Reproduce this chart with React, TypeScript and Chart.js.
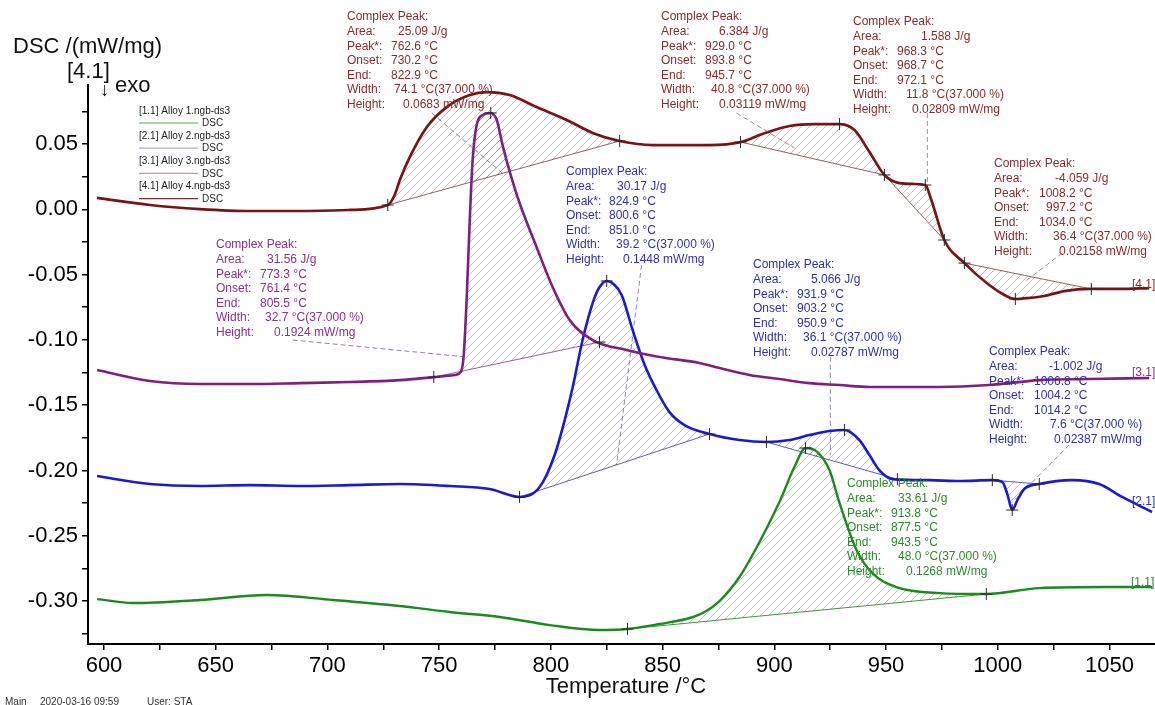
import React, { useEffect, useRef } from 'react';
import { Chart, registerables } from 'chart.js';

Chart.register(...registerables);

const FONT = '"Liberation Sans", Arial, Helvetica, sans-serif';

// ---------- Series data (Temperature °C, DSC mW/mg) ----------
// [1.1] Alloy 1 (green)
const alloy1Temp = [596.9, 613.0, 642.9, 672.9, 702.4, 732.4, 754.7, 777.1, 799.5, 821.8, 834.3, 848.7, 862.1, 868.8, 875.5, 884.4, 893.4, 902.3, 909.0, 914.0, 919.3, 924.7, 929.2, 936.8, 943.9, 954.6, 973.9, 994.9, 1018.6, 1048.6, 1069.1];
const alloy1Dsc = [-0.2985, -0.3015, -0.2992, -0.2954, -0.2992, -0.3038, -0.3084, -0.3122, -0.3184, -0.3222, -0.3214, -0.3176, -0.3130, -0.3084, -0.3000, -0.2816, -0.2548, -0.2242, -0.1974, -0.1828, -0.1859, -0.1997, -0.2249, -0.2609, -0.2786, -0.2893, -0.2939, -0.2946, -0.2901, -0.2893, -0.2893];

// [2.1] Alloy 2 (blue)
const alloy2Temp = [596.9, 620.6, 642.9, 665.3, 687.7, 710.0, 732.4, 754.7, 772.6, 786.0, 795.0, 801.7, 806.2, 809.8, 814.2, 818.7, 821.8, 825.0, 828.1, 831.7, 836.6, 842.0, 847.3, 853.1, 859.8, 871.0, 884.4, 896.5, 906.8, 915.7, 924.7, 931.4, 938.1, 942.6, 947.0, 952.9, 969.4, 982.8, 997.6, 1002.1, 1004.3, 1006.5, 1008.8, 1011.9, 1018.6, 1033.4, 1045.4, 1055.7, 1069.1];
const alloy2Dsc = [-0.2043, -0.2104, -0.2119, -0.2112, -0.2119, -0.2112, -0.2104, -0.2119, -0.2142, -0.2203, -0.2127, -0.1882, -0.1614, -0.1361, -0.1001, -0.0718, -0.0595, -0.0549, -0.0572, -0.0656, -0.0924, -0.1192, -0.1384, -0.1553, -0.1652, -0.1721, -0.1767, -0.1782, -0.1767, -0.1729, -0.1698, -0.1690, -0.1767, -0.1882, -0.1997, -0.2066, -0.2074, -0.2081, -0.2074, -0.2089, -0.2181, -0.2303, -0.2227, -0.2142, -0.2104, -0.2074, -0.2104, -0.2203, -0.2318];

// [3.1] Alloy 3 (purple)
const alloy3Temp = [596.9, 620.6, 642.9, 665.3, 687.7, 710.0, 732.4, 747.6, 757.0, 759.7, 761.0, 762.3, 763.7, 765.0, 766.8, 769.5, 773.1, 775.8, 778.4, 782.0, 786.0, 793.6, 800.8, 808.4, 818.7, 833.9, 848.7, 866.5, 875.5, 888.9, 902.3, 915.7, 929.2, 942.6, 956.0, 973.9, 996.2, 1018.6, 1041.0, 1067.8];
const alloy3Dsc = [-0.1231, -0.1315, -0.1338, -0.1338, -0.1331, -0.1323, -0.1308, -0.1285, -0.1269, -0.1246, -0.1116, -0.0695, -0.0082, 0.0378, 0.0646, 0.0722, 0.0738, 0.0684, 0.0492, 0.0263, 0.0048, -0.0289, -0.0595, -0.0848, -0.1001, -0.1078, -0.1131, -0.1177, -0.1216, -0.1269, -0.1300, -0.1331, -0.1346, -0.1361, -0.1361, -0.1361, -0.1346, -0.1308, -0.1300, -0.1292];

// [4.1] Alloy 4 (maroon)
const alloy4Temp = [596.9, 620.6, 642.9, 665.3, 687.7, 710.0, 727.0, 730.1, 732.4, 736.9, 744.5, 753.4, 763.7, 771.3, 781.6, 793.6, 807.1, 818.7, 830.8, 845.5, 857.6, 871.0, 884.9, 894.7, 906.8, 918.0, 929.2, 935.9, 942.6, 949.3, 956.0, 962.7, 967.6, 970.3, 976.1, 985.1, 996.2, 1003.0, 1007.9, 1014.1, 1020.8, 1029.8, 1041.9, 1054.4, 1067.8];
const alloy4Dsc = [0.0087, 0.0033, 0.0002, -0.0013, -0.0013, -0.0005, 0.0033, 0.0110, 0.0224, 0.0401, 0.0630, 0.0783, 0.0875, 0.0898, 0.0875, 0.0783, 0.0684, 0.0585, 0.0523, 0.0492, 0.0492, 0.0492, 0.0515, 0.0577, 0.0638, 0.0653, 0.0653, 0.0607, 0.0439, 0.0263, 0.0201, 0.0194, 0.0186, 0.0071, -0.0235, -0.0412, -0.0580, -0.0656, -0.0687, -0.0679, -0.0664, -0.0626, -0.0610, -0.0610, -0.0603];

// Integration limits of evaluated peaks (series index, start °C, end °C)
const peakSeries = [3, 3, 3, 3, 2, 1, 1, 1, 0];
const peakStart = [727.0, 884.9, 949.3, 985.1, 747.6, 786.0, 896.5, 997.6, 834.3];
const peakEnd = [830.8, 949.3, 976.1, 1041.9, 821.8, 871.0, 955.1, 1018.6, 994.9];

// Evaluation marker temperatures per series
const alloy1Marks = [834.3, 914.0, 994.9];
const alloy2Marks = [786.0, 825.0, 871.0, 896.5, 931.4, 955.1, 997.6, 1006.5, 1018.6];
const alloy3Marks = [747.6, 773.1, 821.8];
const alloy4Marks = [727.0, 830.8, 884.9, 929.2, 949.3, 967.6, 976.1, 985.1, 1007.9, 1041.9];

// Leader lines (data coordinates)
const leaderSeries = [3, 3, 3, 3, 2, 1, 1, 1];
const leaderT0 = [746.7, 883.1, 968.5, 1028.9, 684.5, 840.6, 925.1, 1032.0];
const leaderV0 = [0.0737, 0.0737, 0.0737, -0.0335, -0.1001, -0.0427, -0.1131, -0.1805];
const leaderT1 = [779.3, 909.0, 968.5, 1011.9, 762.3, 829.4, 925.1, 1006.1];
const leaderV1 = [0.0263, 0.0470, 0.0148, -0.0557, -0.1131, -0.1958, -0.1882, -0.2250];

// Axis ticks
const xTickValues = [600, 625, 650, 675, 700, 725, 750, 775, 800, 825, 850, 875, 900, 925, 950, 975, 1000, 1025, 1050];
const xLabelled = [600, 650, 700, 750, 800, 850, 900, 950, 1000, 1050];
const yTickValues = [-0.325, -0.3, -0.275, -0.25, -0.225, -0.2, -0.175, -0.15, -0.125, -0.1, -0.075, -0.05, -0.025, 0, 0.025, 0.05, 0.075];
const yLabelled = [-0.3, -0.25, -0.2, -0.15, -0.1, -0.05, 0, 0.05];

const seriesNames = ['[1.1] Alloy 1.ngb-ds3', '[2.1] Alloy 2.ngb-ds3', '[3.1] Alloy 3.ngb-ds3', '[4.1] Alloy 4.ngb-ds3'];
const seriesTags = ['[1.1]', '[2.1]', '[3.1]', '[4.1]'];

// ---------- Styles ----------
const lineColors = ['#1c8a1c', '#1a1ad2', '#7f1f7f', '#7a1414'];
const lineWidths = [2.4, 2.6, 2.6, 2.7];
const textColors = ['#2b8a2b', '#2e2eb8', '#8a308a', '#8b2a2a'];
const hatchColors = ['rgba(40,130,40,0.5)', 'rgba(70,70,120,0.45)', 'rgba(110,70,110,0.45)', 'rgba(110,70,70,0.45)'];
const baseColors = ['rgba(30,130,30,0.85)', 'rgba(40,40,170,0.75)', 'rgba(120,40,120,0.75)', 'rgba(120,40,40,0.75)'];
const leaderColors = ['rgba(40,130,40,0.6)', 'rgba(60,60,150,0.6)', 'rgba(110,50,110,0.65)', 'rgba(110,50,50,0.6)'];
const legendLineColors = ['#5aaa5a', '#aaaae6', '#c88cc8', '#7a3030'];
const tagPos = [[1131, 583], [1132, 502], [1132, 373], [1132, 285]];

const peakFieldNames = ['Area:', 'Peak*:', 'Onset:', 'End:', 'Width:', 'Height:'];
const annotationBlocks = [
  { s: 3, x: 347, y: 17, vals: ['25.09 J/g', '762.6 °C', '730.2 °C', '822.9 °C', '74.1 °C(37.000 %)', '0.0683 mW/mg'], vx: [398, 391, 391, 391, 394, 403] },
  { s: 3, x: 661, y: 17, vals: ['6.384 J/g', '929.0 °C', '893.8 °C', '945.7 °C', '40.8 °C(37.000 %)', '0.03119 mW/mg'], vx: [719, 705, 705, 705, 711, 719] },
  { s: 3, x: 853, y: 22, vals: ['1.588 J/g', '968.3 °C', '968.7 °C', '972.1 °C', '11.8 °C(37.000 %)', '0.02809 mW/mg'], vx: [921, 897, 897, 897, 906, 912] },
  { s: 3, x: 994, y: 164, vals: ['-4.059 J/g', '1008.2 °C', '997.2 °C', '1034.0 °C', '36.4 °C(37.000 %)', '0.02158 mW/mg'], vx: [1055, 1039, 1046, 1039, 1053, 1059] },
  { s: 2, x: 216, y: 245, vals: ['31.56 J/g', '773.3 °C', '761.4 °C', '805.5 °C', '32.7 °C(37.000 %)', '0.1924 mW/mg'], vx: [267, 260, 260, 260, 265, 274] },
  { s: 1, x: 566, y: 172, vals: ['30.17 J/g', '824.9 °C', '800.6 °C', '851.0 °C', '39.2 °C(37.000 %)', '0.1448 mW/mg'], vx: [617, 609, 609, 609, 616, 623] },
  { s: 1, x: 753, y: 265, vals: ['5.066 J/g', '931.9 °C', '903.2 °C', '950.9 °C', '36.1 °C(37.000 %)', '0.02787 mW/mg'], vx: [811, 797, 797, 797, 803, 811] },
  { s: 1, x: 989, y: 352, vals: ['-1.002 J/g', '1006.8 °C', '1004.2 °C', '1014.2 °C', '7.6 °C(37.000 %)', '0.02387 mW/mg'], vx: [1049, 1034, 1034, 1034, 1050, 1054] },
  { s: 0, x: 847, y: 484, vals: ['33.61 J/g', '913.8 °C', '877.5 °C', '943.5 °C', '48.0 °C(37.000 %)', '0.1268 mW/mg'], vx: [898, 891, 891, 891, 898, 906] },
];

const temps = [alloy1Temp, alloy2Temp, alloy3Temp, alloy4Temp];
const dscs = [alloy1Dsc, alloy2Dsc, alloy3Dsc, alloy4Dsc];
const marks = [alloy1Marks, alloy2Marks, alloy3Marks, alloy4Marks];

function interp(ts: number[], vs: number[], t: number): number {
  for (let i = 0; i < ts.length - 1; i++) {
    if (t >= ts[i] && t <= ts[i + 1]) {
      const f = (t - ts[i]) / (ts[i + 1] - ts[i]);
      return vs[i] + f * (vs[i + 1] - vs[i]);
    }
  }
  return t < ts[0] ? vs[0] : vs[vs.length - 1];
}

function makeHatch(ctx: CanvasRenderingContext2D, color: string) {
  const c = document.createElement('canvas');
  c.width = 8;
  c.height = 8;
  const g = c.getContext('2d')!;
  g.strokeStyle = color;
  g.lineWidth = 0.8;
  g.beginPath();
  g.moveTo(0, 8); g.lineTo(8, 0);
  g.moveTo(-1, 1); g.lineTo(1, -1);
  g.moveTo(7, 9); g.lineTo(9, 7);
  g.stroke();
  return ctx.createPattern(c, 'repeat');
}

const overlayPlugin = {
  id: 'overlay',
  afterDraw(chart: any) {
    const ctx: CanvasRenderingContext2D = chart.ctx;
    ctx.save();
    ctx.textAlign = 'left';
    ctx.textBaseline = 'alphabetic';
    ctx.fillStyle = '#111';
    ctx.font = `22px ${FONT}`;
    ctx.fillText('DSC /(mW/mg)', 13, 53);
    ctx.fillText('[4.1]', 67, 78);
    ctx.fillText('exo', 115, 92);
    ctx.font = `19px ${FONT}`;
    ctx.fillText('↓', 100, 96);
    ctx.font = `22px ${FONT}`;
    ctx.textAlign = 'center';
    ctx.fillText('Temperature /°C', 626, 693);

    ctx.textAlign = 'left';
    ctx.font = `10px ${FONT}`;
    ctx.fillStyle = '#333';
    ctx.fillText('Main', 5, 705);
    ctx.fillText('2020-03-16 09:59', 40, 705);
    ctx.fillText('User: STA', 147, 705);

    // legend
    ctx.textBaseline = 'middle';
    for (let i = 0; i < 4; i++) {
      ctx.fillStyle = '#222';
      ctx.font = `10px ${FONT}`;
      ctx.fillText(seriesNames[i], 139, 111 + 25.2 * i);
      ctx.fillText('DSC', 202, 123.5 + 25.2 * i);
      ctx.strokeStyle = legendLineColors[i];
      ctx.lineWidth = 1.2;
      ctx.beginPath();
      ctx.moveTo(139, 123 + 25.2 * i);
      ctx.lineTo(198, 123 + 25.2 * i);
      ctx.stroke();
    }

    // series tags
    ctx.font = `12px ${FONT}`;
    for (let i = 0; i < 4; i++) {
      ctx.fillStyle = textColors[i];
      ctx.fillText(seriesTags[i], tagPos[i][0], tagPos[i][1]);
    }

    // annotation blocks
    ctx.font = `12px ${FONT}`;
    const dy = 14.6;
    annotationBlocks.forEach((b) => {
      ctx.fillStyle = textColors[b.s];
      ctx.fillText('Complex Peak:', b.x, b.y);
      peakFieldNames.forEach((n, k) => {
        const yy = b.y + dy * (k + 1);
        ctx.fillText(n, b.x, yy);
        ctx.fillText(b.vals[k], b.vx[k], yy);
      });
    });
    ctx.restore();
  },
};

export default function App() {
  const ref = useRef<HTMLCanvasElement | null>(null);

  useEffect(() => {
    const canvas = ref.current;
    if (!canvas) return;
    const ctx = canvas.getContext('2d')!;
    const datasets: any[] = [];

    // hatched peak areas
    peakSeries.forEach((s, i) => {
      const t0 = peakStart[i];
      const t1 = peakEnd[i];
      const pts = [{ x: t0, y: interp(temps[s], dscs[s], t0) }];
      temps[s].forEach((t, k) => {
        if (t > t0 && t < t1) pts.push({ x: t, y: dscs[s][k] });
      });
      pts.push({ x: t1, y: interp(temps[s], dscs[s], t1) });
      datasets.push({
        data: pts,
        fill: 'shape',
        backgroundColor: makeHatch(ctx, hatchColors[s]),
        borderColor: 'rgba(0,0,0,0)',
        borderWidth: 0,
        pointRadius: 0,
        cubicInterpolationMode: 'monotone',
        order: 10,
      });
      datasets.push({
        data: [pts[0], pts[pts.length - 1]],
        borderColor: baseColors[s],
        borderWidth: 1,
        pointRadius: 0,
        fill: false,
        order: 6,
      });
    });

    // leader lines
    leaderSeries.forEach((s, i) => {
      datasets.push({
        data: [{ x: leaderT0[i], y: leaderV0[i] }, { x: leaderT1[i], y: leaderV1[i] }],
        borderColor: leaderColors[s],
        borderWidth: 1,
        borderDash: [5, 3],
        pointRadius: 0,
        fill: false,
        order: 5,
      });
    });

    // curves
    for (let s = 3; s >= 0; s--) {
      datasets.push({
        label: seriesNames[s],
        data: temps[s].map((t, k) => ({ x: t, y: dscs[s][k] })),
        borderColor: lineColors[s],
        borderWidth: lineWidths[s],
        pointRadius: 0,
        fill: false,
        cubicInterpolationMode: 'monotone',
        order: 2,
      });
    }

    // markers
    for (let s = 0; s < 4; s++) {
      datasets.push({
        data: marks[s].map((t) => ({ x: t, y: interp(temps[s], dscs[s], t) })),
        showLine: false,
        pointStyle: 'cross',
        pointRadius: 6,
        pointBorderWidth: 1,
        pointBorderColor: '#2a2a2a',
        pointBackgroundColor: 'rgba(0,0,0,0)',
        order: 0,
      });
    }

    const tickFont = { family: FONT, size: 22 };

    const chart = new Chart(canvas, {
      type: 'line',
      data: { datasets },
      options: {
        animation: false,
        responsive: false,
        devicePixelRatio: 1,
        layout: { autoPadding: false, padding: { top: 85, left: 0, right: 0, bottom: 0 } },
        plugins: { legend: { display: false }, tooltip: { enabled: false } },
        events: [],
        scales: {
          x: {
            type: 'linear',
            min: 592.84,
            max: 1070.4,
            afterBuildTicks: (s: any) => {
              s.ticks = xTickValues.map((v) => ({ value: v }));
            },
            afterFit: (s: any) => {
              s.height = 61;
              s.paddingLeft = 0;
              s.paddingRight = 0;
            },
            grid: { display: true, drawOnChartArea: false, drawTicks: true, tickLength: 6, color: '#000', lineWidth: 1.5 },
            border: { display: true, color: '#000', width: 2 },
            ticks: {
              autoSkip: false,
              maxRotation: 0,
              padding: 3,
              color: '#000',
              font: tickFont,
              callback: (v: any) => (xLabelled.includes(Number(v)) ? String(v) : ''),
            },
          },
          y: {
            type: 'linear',
            min: -0.3329,
            max: 0.0952,
            afterBuildTicks: (s: any) => {
              s.ticks = yTickValues.map((v) => ({ value: v }));
            },
            afterFit: (s: any) => {
              s.width = 88;
              s.paddingTop = 0;
              s.paddingBottom = 0;
            },
            grid: { display: true, drawOnChartArea: false, drawTicks: true, tickLength: 6, color: '#000', lineWidth: 1.5 },
            border: { display: true, color: '#000', width: 2 },
            ticks: {
              autoSkip: false,
              padding: 4,
              color: '#000',
              font: tickFont,
              callback: (v: any) => {
                const n = Number(v);
                return yLabelled.some((l) => Math.abs(l - n) < 1e-9) ? (Math.abs(n) < 1e-9 ? '0.00' : n.toFixed(2)) : '';
              },
            },
          },
        },
      },
      plugins: [overlayPlugin],
    } as any);

    return () => chart.destroy();
  }, []);

  return (
    <div style={{ position: 'absolute', left: 0, top: 0, width: 1155, height: 705, background: '#fff', overflow: 'hidden' }}>
      <canvas ref={ref} width={1155} height={705} style={{ display: 'block' }} />
    </div>
  );
}
